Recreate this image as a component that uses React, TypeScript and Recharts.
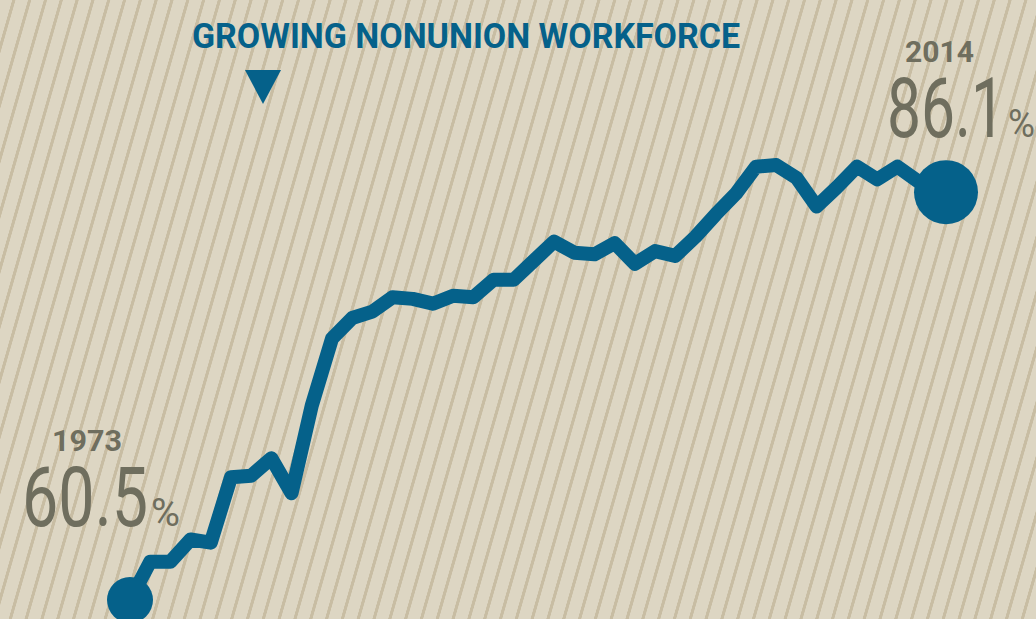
import { LineChart, Line, XAxis, YAxis } from 'recharts';

// share of the workforce not in a union, by year
const years = [
  1973, 1974, 1975, 1976, 1977, 1978, 1979, 1980, 1981, 1982, 1983, 1984, 1985, 1986,
  1987, 1988, 1989, 1990, 1991, 1992, 1993, 1994, 1995, 1996, 1997, 1998, 1999, 2000,
  2001, 2002, 2003, 2004, 2005, 2006, 2007, 2008, 2009, 2010, 2011, 2012, 2013, 2014,
];
const nonunionShare = [
  60.5, 62.9, 62.9, 64.3, 64.1, 68.2, 68.3, 69.4, 67.2, 72.7, 76.9, 78.2, 78.6, 79.5,
  79.4, 79.1, 79.6, 79.5, 80.6, 80.6, 81.8, 83.0, 82.3, 82.2, 82.9, 81.6, 82.4, 82.1,
  83.3, 84.7, 86.0, 87.7, 87.8, 87.0, 85.2, 86.4, 87.7, 86.9, 87.7, 86.8, 86.4, 86.1,
];
const titleText = 'GROWING NONUNION WORKFORCE';
const startLabel = { year: '1973', value: '60.5' };
const endLabel = { year: '2014', value: '86.1' };

const data = years.map((year, i) => ({ year, share: nonunionShare[i] }));

const BLUE = '#05618a';
const GRAY = '#6f6e5e';

function EndDot(props: any) {
  const { cx, cy, index } = props;
  if (index === 0) return <circle key="d0" cx={cx} cy={cy} r={23} fill={BLUE} />;
  // the closing marker sits a little inside the last point
  if (index === data.length - 1) return <circle key="dl" cx={cx - 12} cy={cy} r={32} fill={BLUE} />;
  return <g key={`d${index}`} />;
}

export default function App() {
  return (
    <div
      style={{
        position: 'absolute',
        left: 0,
        top: 0,
        width: 1036,
        height: 619,
        overflow: 'hidden',
        background:
          'repeating-linear-gradient(106deg, #ddd6c3 0px, #ddd6c3 11.5px, #c8bda3 12px, #c8bda3 14.6px, #ddd6c3 15.2px)',
      }}
    >
      <LineChart width={1036} height={619} data={data} margin={{ top: 130, right: 78, bottom: 11, left: 130 }}>
        <XAxis type="number" dataKey="year" domain={[1973, 2014]} hide />
        <YAxis type="number" domain={[60, 90]} hide />
        <Line
          type="linear"
          dataKey="share"
          stroke={BLUE}
          strokeWidth={14}
          strokeLinejoin="round"
          dot={EndDot}
          activeDot={false}
          isAnimationActive={false}
        />
      </LineChart>
      <svg width={1036} height={619} style={{ position: 'absolute', left: 0, top: 0 }}>
        <text
          x={192}
          y={48}
          fontFamily="Roboto, 'DejaVu Sans', sans-serif"
          fontWeight={700}
          fontSize={35}
          fill={BLUE}
          textLength={548}
          lengthAdjust="spacingAndGlyphs"
        >
          {titleText}
        </text>
        <polygon points="245,70 281,70 263,104" fill={BLUE} />

        <text x={52} y={451} fontFamily="Roboto, sans-serif" fontWeight={700} fontSize={29} fill={GRAY} textLength={70} lengthAdjust="spacingAndGlyphs">
          {startLabel.year}
        </text>
        <text x={22} y={526} fontFamily="Roboto, sans-serif" fontWeight={400} fontSize={84} fill={GRAY} textLength={126} lengthAdjust="spacingAndGlyphs">
          {startLabel.value}
        </text>
        <text x={151} y={526} fontFamily="Roboto, sans-serif" fontWeight={400} fontSize={38} fill={GRAY} textLength={29} lengthAdjust="spacingAndGlyphs">
          %
        </text>

        <text x={905} y={62} fontFamily="Roboto, sans-serif" fontWeight={700} fontSize={29} fill={GRAY} textLength={69} lengthAdjust="spacingAndGlyphs">
          {endLabel.year}
        </text>
        <text x={887} y={137} fontFamily="Roboto, sans-serif" fontWeight={400} fontSize={84} fill={GRAY} textLength={118} lengthAdjust="spacingAndGlyphs">
          {endLabel.value}
        </text>
        <text x={1008} y={137} fontFamily="Roboto, sans-serif" fontWeight={400} fontSize={38} fill={GRAY} textLength={27} lengthAdjust="spacingAndGlyphs">
          %
        </text>
      </svg>
    </div>
  );
}
